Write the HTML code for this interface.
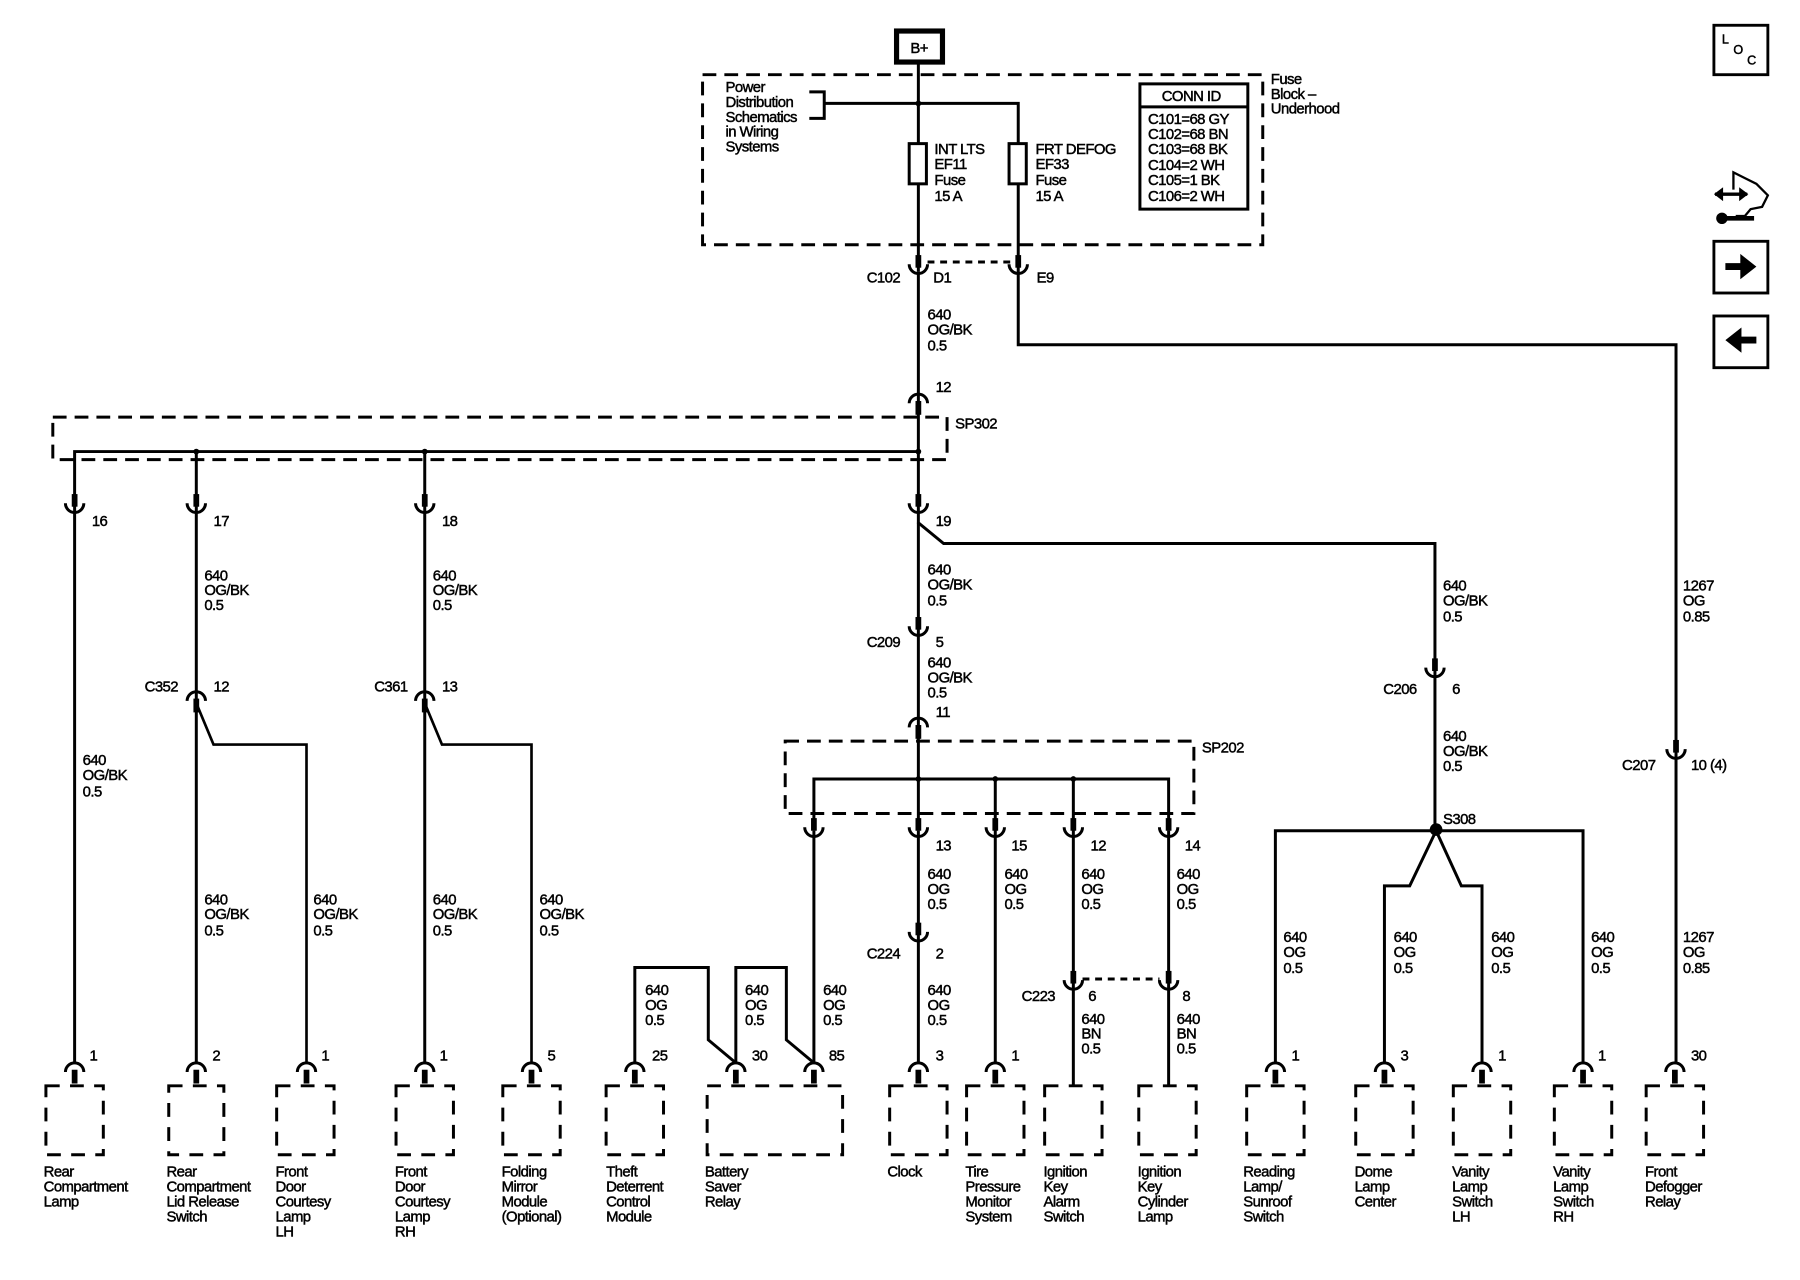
<!DOCTYPE html>
<html><head><meta charset="utf-8"><style>
html,body{margin:0;padding:0;background:#fff}
svg{display:block}
text{font-family:"Liberation Sans",sans-serif;font-size:13px;fill:#000;stroke:#000;stroke-width:0.4;letter-spacing:-0.5px}
</style></head><body>
<svg width="1800" height="1280" viewBox="0 0 1568 1114" preserveAspectRatio="none" xmlns="http://www.w3.org/2000/svg">
<defs>
<g id="cup"><rect x="-2.5" y="-16" width="5" height="11" fill="#000"/><path d="M-8,-8 A8,8 0 0 0 8,-8" fill="none" stroke="#000" stroke-width="2.6"/></g>
<g id="cap"><path d="M-8,8 A8,8 0 0 1 8,8" fill="none" stroke="#000" stroke-width="2.6"/><rect x="-2.5" y="6" width="5" height="12" fill="#000"/></g>
</defs>
<g fill="none" stroke="#000" stroke-width="2.6">
<rect x="781" y="27" width="40" height="27" stroke-width="4.5"/>
<rect x="612" y="65" width="488" height="148" stroke-dasharray="12 7"/>
<path d="M705,80 H718 V103 H705"/>
<path d="M718,90 H887 V300 H1460 V925"/>
<path d="M800,54 V236"/>
<rect x="792" y="125" width="15" height="35" fill="#fff"/>
<rect x="879" y="125" width="15" height="35" fill="#fff"/>
<rect x="993" y="73" width="94" height="109"/>
<path d="M993,93 H1087"/>
<path d="M808,228 H880" stroke-dasharray="6 5"/>
<path d="M800,236 V445"/>
<rect x="46" y="363" width="779" height="37" stroke-dasharray="12 7"/>
<path d="M65,445 V393 H800"/>
<path d="M171,393 V925"/>
<path d="M370,393 V925"/>
<path d="M171,612 L186,648 H267 V925" stroke-width="2.3"/>
<path d="M370,612 L385,648 H463 V925" stroke-width="2.3"/>
<path d="M65,445 V925"/>
<path d="M800,445 V455 L822,473 H1250 V723"/>
<path d="M800,455 V723"/>
<rect x="684" y="645" width="356" height="63" stroke-dasharray="12 7"/>
<path d="M709,723 V678 H1018 V723"/>
<path d="M867,678 V925"/><path d="M935,678 V945"/><path d="M709,723 V925"/><path d="M800,723 V925"/><path d="M1018,723 V945"/>
<path d="M943,852 H1010" stroke-dasharray="6 5"/>
<path d="M553,925 V842 H617 V905 L641,925"/>
<path d="M641,925 V842 H685 V905 L709,925"/>
<path d="M1111,925 V723 H1379 V925"/>
<path d="M1251,723 L1228,771 H1206 V925"/>
<path d="M1251,723 L1273,771 H1291 V925"/>
<g stroke-dasharray="12 9">
<rect x="40" y="945" width="50" height="60"/>
<rect x="147" y="945" width="48" height="60"/>
<rect x="241" y="945" width="50" height="60"/>
<rect x="345" y="945" width="50" height="60"/>
<rect x="438" y="945" width="50" height="60"/>
<rect x="528" y="945" width="50" height="60"/>
<rect x="616" y="945" width="118" height="60"/>
<rect x="775" y="945" width="50" height="60"/>
<rect x="842" y="945" width="50" height="60"/>
<rect x="910" y="945" width="50" height="60"/>
<rect x="992" y="945" width="50" height="60"/>
<rect x="1086" y="945" width="50" height="60"/>
<rect x="1181" y="945" width="50" height="60"/>
<rect x="1266" y="945" width="50" height="60"/>
<rect x="1354" y="945" width="50" height="60"/>
<rect x="1434" y="945" width="50" height="60"/>
</g>
<rect x="1493" y="22" width="47" height="43" stroke-width="2.5"/>
<rect x="1493" y="210" width="47" height="45" stroke-width="2.5"/>
<rect x="1493" y="275" width="47" height="45" stroke-width="2.5"/>
<path d="M1510,165 L1510,150 L1520,155 L1530,160 L1540,170 L1535,180 L1525,182 L1520,188 L1512,188" stroke-width="2"/>
<path d="M1494,169 H1522" stroke-width="3"/>
<path d="M1500,190 H1528" stroke-width="4"/>
</g>
<g fill="#000">
<circle cx="800" cy="90" r="2.5"/>
<circle cx="171" cy="393" r="2.5"/><circle cx="370" cy="393" r="2.5"/><circle cx="800" cy="393" r="2.5"/>
<circle cx="800" cy="678" r="2.5"/><circle cx="867" cy="678" r="2.5"/><circle cx="935" cy="678" r="2.5"/>
<circle cx="1251" cy="722" r="5.5"/>
<path d="M1493,169 L1501,163 V175 Z M1523,169 L1515,163 V175 Z"/>
<circle cx="1500" cy="190" r="5"/>
<path d="M1503,229 H1516 V221 L1530,232 L1516,243 V235 H1503 Z"/>
<path d="M1530,293 H1517 V285 L1503,296 L1517,307 V299 H1530 Z"/>
</g>
<use href="#cup" x="800" y="238"/><use href="#cup" x="887" y="238"/>
<use href="#cap" x="800" y="343"/>
<use href="#cup" x="65" y="446"/><use href="#cup" x="171" y="446"/><use href="#cup" x="370" y="446"/><use href="#cup" x="800" y="446"/>
<use href="#cup" x="800" y="553"/>
<use href="#cap" x="171" y="602"/><use href="#cap" x="370" y="602"/>
<use href="#cap" x="800" y="625"/>
<use href="#cup" x="709" y="728"/><use href="#cup" x="800" y="728"/><use href="#cup" x="867" y="728"/><use href="#cup" x="935" y="728"/><use href="#cup" x="1018" y="728"/>
<use href="#cup" x="800" y="819"/>
<use href="#cup" x="935" y="861"/><use href="#cup" x="1018" y="861"/>
<use href="#cup" x="1250" y="589"/>
<use href="#cup" x="1460" y="660"/>
<g>
<use href="#cap" x="65" y="925"/><use href="#cap" x="171" y="925"/><use href="#cap" x="267" y="925"/><use href="#cap" x="370" y="925"/><use href="#cap" x="463" y="925"/>
<use href="#cap" x="553" y="925"/><use href="#cap" x="641" y="925"/><use href="#cap" x="709" y="925"/><use href="#cap" x="800" y="925"/><use href="#cap" x="867" y="925"/>
<use href="#cap" x="1111" y="925"/><use href="#cap" x="1206" y="925"/><use href="#cap" x="1291" y="925"/><use href="#cap" x="1379" y="925"/><use href="#cap" x="1459" y="925"/>
</g>
<text x="793" y="46">B+</text>
<text x="632" y="80">Power</text><text x="632" y="93">Distribution</text><text x="632" y="106">Schematics</text><text x="632" y="119">in Wiring</text><text x="632" y="132">Systems</text>
<text x="814" y="134">INT LTS</text><text x="814" y="147">EF11</text><text x="814" y="161">Fuse</text><text x="814" y="175">15 A</text>
<text x="902" y="134">FRT DEFOG</text><text x="902" y="147">EF33</text><text x="902" y="161">Fuse</text><text x="902" y="175">15 A</text>
<text x="1012" y="88">CONN ID</text>
<text x="1000" y="108">C101=68 GY</text><text x="1000" y="121">C102=68 BN</text><text x="1000" y="134">C103=68 BK</text><text x="1000" y="148">C104=2 WH</text><text x="1000" y="161">C105=1 BK</text><text x="1000" y="175">C106=2 WH</text>
<text x="1107" y="73">Fuse</text><text x="1107" y="86">Block –</text><text x="1107" y="99">Underhood</text>
<text x="755" y="246">C102</text><text x="813" y="246">D1</text><text x="903" y="246">E9</text>
<text x="808" y="278">640</text><text x="808" y="291">OG/BK</text><text x="808" y="305">0.5</text>
<text x="815" y="341">12</text><text x="832" y="373">SP302</text>
<text x="80" y="458">16</text><text x="186" y="458">17</text><text x="385" y="458">18</text><text x="815" y="458">19</text>
<text x="178" y="505">640</text><text x="178" y="518">OG/BK</text><text x="178" y="531">0.5</text>
<text x="377" y="505">640</text><text x="377" y="518">OG/BK</text><text x="377" y="531">0.5</text>
<text x="808" y="500">640</text><text x="808" y="513">OG/BK</text><text x="808" y="527">0.5</text>
<text x="1257" y="514">640</text><text x="1257" y="527">OG/BK</text><text x="1257" y="541">0.5</text>
<text x="1466" y="514">1267</text><text x="1466" y="527">OG</text><text x="1466" y="541">0.85</text>
<text x="755" y="563">C209</text><text x="815" y="563">5</text>
<text x="808" y="581">640</text><text x="808" y="594">OG/BK</text><text x="808" y="607">0.5</text>
<text x="126" y="602">C352</text><text x="186" y="602">12</text><text x="326" y="602">C361</text><text x="385" y="602">13</text>
<text x="815" y="624">11</text><text x="1047" y="655">SP202</text>
<text x="1205" y="604">C206</text><text x="1265" y="604">6</text>
<text x="1257" y="645">640</text><text x="1257" y="658">OG/BK</text><text x="1257" y="671">0.5</text>
<text x="72" y="666">640</text><text x="72" y="679">OG/BK</text><text x="72" y="693">0.5</text>
<text x="1413" y="670">C207</text><text x="1473" y="670">10 (4)</text>
<text x="1257" y="717">S308</text>
<text x="815" y="740">13</text><text x="881" y="740">15</text><text x="950" y="740">12</text><text x="1032" y="740">14</text>
<text x="808" y="765">640</text><text x="808" y="778">OG</text><text x="808" y="791">0.5</text>
<text x="875" y="765">640</text><text x="875" y="778">OG</text><text x="875" y="791">0.5</text>
<text x="942" y="765">640</text><text x="942" y="778">OG</text><text x="942" y="791">0.5</text>
<text x="1025" y="765">640</text><text x="1025" y="778">OG</text><text x="1025" y="791">0.5</text>
<text x="178" y="787">640</text><text x="178" y="800">OG/BK</text><text x="178" y="814">0.5</text>
<text x="273" y="787">640</text><text x="273" y="800">OG/BK</text><text x="273" y="814">0.5</text>
<text x="377" y="787">640</text><text x="377" y="800">OG/BK</text><text x="377" y="814">0.5</text>
<text x="470" y="787">640</text><text x="470" y="800">OG/BK</text><text x="470" y="814">0.5</text>
<text x="1118" y="820">640</text><text x="1118" y="833">OG</text><text x="1118" y="847">0.5</text>
<text x="1214" y="820">640</text><text x="1214" y="833">OG</text><text x="1214" y="847">0.5</text>
<text x="1299" y="820">640</text><text x="1299" y="833">OG</text><text x="1299" y="847">0.5</text>
<text x="1386" y="820">640</text><text x="1386" y="833">OG</text><text x="1386" y="847">0.5</text>
<text x="1466" y="820">1267</text><text x="1466" y="833">OG</text><text x="1466" y="847">0.85</text>
<text x="755" y="834">C224</text><text x="815" y="834">2</text>
<text x="808" y="866">640</text><text x="808" y="879">OG</text><text x="808" y="892">0.5</text>
<text x="562" y="866">640</text><text x="562" y="879">OG</text><text x="562" y="892">0.5</text>
<text x="649" y="866">640</text><text x="649" y="879">OG</text><text x="649" y="892">0.5</text>
<text x="717" y="866">640</text><text x="717" y="879">OG</text><text x="717" y="892">0.5</text>
<text x="890" y="871">C223</text><text x="948" y="871">6</text><text x="1030" y="871">8</text>
<text x="942" y="891">640</text><text x="942" y="904">BN</text><text x="942" y="917">0.5</text>
<text x="1025" y="891">640</text><text x="1025" y="904">BN</text><text x="1025" y="917">0.5</text>
<text x="78" y="923">1</text><text x="185" y="923">2</text><text x="280" y="923">1</text><text x="383" y="923">1</text><text x="477" y="923">5</text>
<text x="568" y="923">25</text><text x="655" y="923">30</text><text x="722" y="923">85</text><text x="815" y="923">3</text><text x="881" y="923">1</text>
<text x="1125" y="923">1</text><text x="1220" y="923">3</text><text x="1305" y="923">1</text><text x="1392" y="923">1</text><text x="1473" y="923">30</text>
<text x="38" y="1024">Rear</text><text x="38" y="1037">Compartment</text><text x="38" y="1050">Lamp</text>
<text x="145" y="1024">Rear</text><text x="145" y="1037">Compartment</text><text x="145" y="1050">Lid Release</text><text x="145" y="1063">Switch</text>
<text x="240" y="1024">Front</text><text x="240" y="1037">Door</text><text x="240" y="1050">Courtesy</text><text x="240" y="1063">Lamp</text><text x="240" y="1076">LH</text>
<text x="344" y="1024">Front</text><text x="344" y="1037">Door</text><text x="344" y="1050">Courtesy</text><text x="344" y="1063">Lamp</text><text x="344" y="1076">RH</text>
<text x="437" y="1024">Folding</text><text x="437" y="1037">Mirror</text><text x="437" y="1050">Module</text><text x="437" y="1063">(Optional)</text>
<text x="528" y="1024">Theft</text><text x="528" y="1037">Deterrent</text><text x="528" y="1050">Control</text><text x="528" y="1063">Module</text>
<text x="614" y="1024">Battery</text><text x="614" y="1037">Saver</text><text x="614" y="1050">Relay</text>
<text x="773" y="1024">Clock</text>
<text x="841" y="1024">Tire</text><text x="841" y="1037">Pressure</text><text x="841" y="1050">Monitor</text><text x="841" y="1063">System</text>
<text x="909" y="1024">Ignition</text><text x="909" y="1037">Key</text><text x="909" y="1050">Alarm</text><text x="909" y="1063">Switch</text>
<text x="991" y="1024">Ignition</text><text x="991" y="1037">Key</text><text x="991" y="1050">Cylinder</text><text x="991" y="1063">Lamp</text>
<text x="1083" y="1024">Reading</text><text x="1083" y="1037">Lamp/</text><text x="1083" y="1050">Sunroof</text><text x="1083" y="1063">Switch</text>
<text x="1180" y="1024">Dome</text><text x="1180" y="1037">Lamp</text><text x="1180" y="1050">Center</text>
<text x="1265" y="1024">Vanity</text><text x="1265" y="1037">Lamp</text><text x="1265" y="1050">Switch</text><text x="1265" y="1063">LH</text>
<text x="1353" y="1024">Vanity</text><text x="1353" y="1037">Lamp</text><text x="1353" y="1050">Switch</text><text x="1353" y="1063">RH</text>
<text x="1433" y="1024">Front</text><text x="1433" y="1037">Defogger</text><text x="1433" y="1050">Relay</text>
<text x="1500" y="38" style="font-size:11px">L</text><text x="1510" y="47" style="font-size:11px">O</text><text x="1522" y="56" style="font-size:11px">C</text>
</svg>
</body></html>
